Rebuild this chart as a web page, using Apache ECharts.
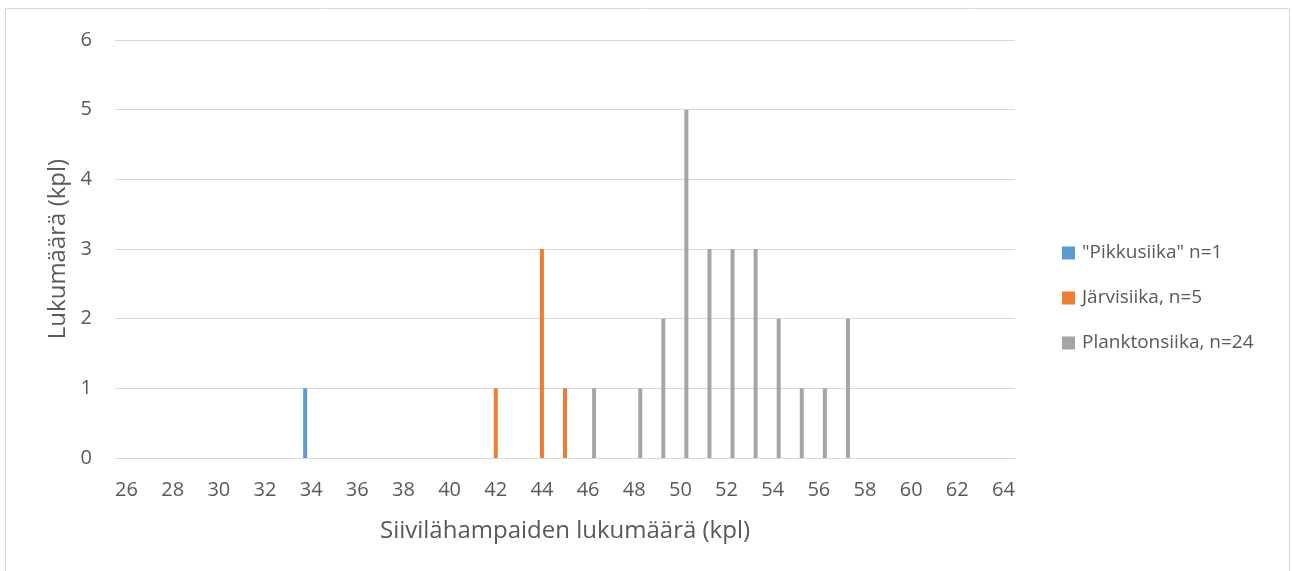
<!DOCTYPE html>
<html><head><meta charset="utf-8">
<script src="https://cdn.jsdelivr.net/npm/echarts@6/dist/echarts.min.js"></script>
<style>html,body{margin:0;padding:0;background:#fff}#c{width:1292px;height:571px}</style>
</head><body><div id="c"></div>
<script>
const categories = [];
for (let v = 26; v <= 64; v++) categories.push(String(v));
const seriesNames = ['"Pikkusiika" n=1', 'Järvisiika, n=5', 'Planktonsiika, n=24'];
const pikkusiika = {34: 1};
const jarvisiika = {42: 1, 44: 3, 45: 1};
const planktonsiika = {46: 1, 48: 1, 49: 2, 50: 5, 51: 3, 52: 3, 53: 3, 54: 2, 55: 1, 56: 1, 57: 2};
const yTicks = [0, 1, 2, 3, 4, 5, 6];
const colors = ['#5b9bd5', '#ed7d31', '#a5a5a5'];

function toArr(m) { return categories.map(c => (m[c] !== undefined ? m[c] : null)); }
const font = 'Open Sans, Liberation Sans, sans-serif';
const chart = echarts.init(document.getElementById('c'));
chart.setOption({
  animation: false,
  color: colors,
  textStyle: {fontFamily: font},
  graphic: [
    {type: 'rect', shape: {x: 5.5, y: 8.5, width: 1284, height: 600}, style: {fill: 'none', stroke: '#d9d9d9', lineWidth: 1}},
    {type: 'text', x: 58, y: 249, rotation: Math.PI / 2, style: {text: 'Lukumäärä (kpl)', fill: '#595959', font: '24px ' + font, align: 'center', verticalAlign: 'middle'}}
  ],
  grid: {left: 115, right: 277, top: 40, bottom: 113},
  legend: {
    orient: 'vertical', left: 1057, top: 238.5, itemWidth: 13, itemHeight: 13, itemGap: 26,
    icon: 'rect',
    textStyle: {color: '#595959', fontSize: 19, lineHeight: 19, fontFamily: font, padding: [0, 0, 0, 2]},
    data: seriesNames
  },
  xAxis: {
    type: 'category', data: categories, boundaryGap: true,
    name: 'Siivilähampaiden lukumäärä (kpl)', nameLocation: 'middle', nameGap: 61,
    nameTextStyle: {color: '#595959', fontSize: 24, fontFamily: font},
    axisLine: {show: true, lineStyle: {color: '#d9d9d9', width: 1}},
    axisTick: {show: false},
    axisLabel: {interval: 1, color: '#595959', fontSize: 20, margin: 22, fontFamily: font}
  },
  yAxis: {
    type: 'value', min: 0, max: 6, interval: 1,
    axisLine: {show: false}, axisTick: {show: false},
    splitLine: {lineStyle: {color: '#d9d9d9', width: 1}},
    axisLabel: {color: '#595959', fontSize: 20, margin: 23, fontFamily: font,
      formatter: v => (yTicks.indexOf(v) >= 0 ? String(v) : '')}
  },
  series: [
    {name: seriesNames[0], type: 'bar', data: toArr(pikkusiika), barWidth: 4, barGap: '50%'},
    {name: seriesNames[1], type: 'bar', data: toArr(jarvisiika), barWidth: 4, barGap: '50%'},
    {name: seriesNames[2], type: 'bar', data: toArr(planktonsiika), barWidth: 4, barGap: '50%'}
  ]
});
</script></body></html>
